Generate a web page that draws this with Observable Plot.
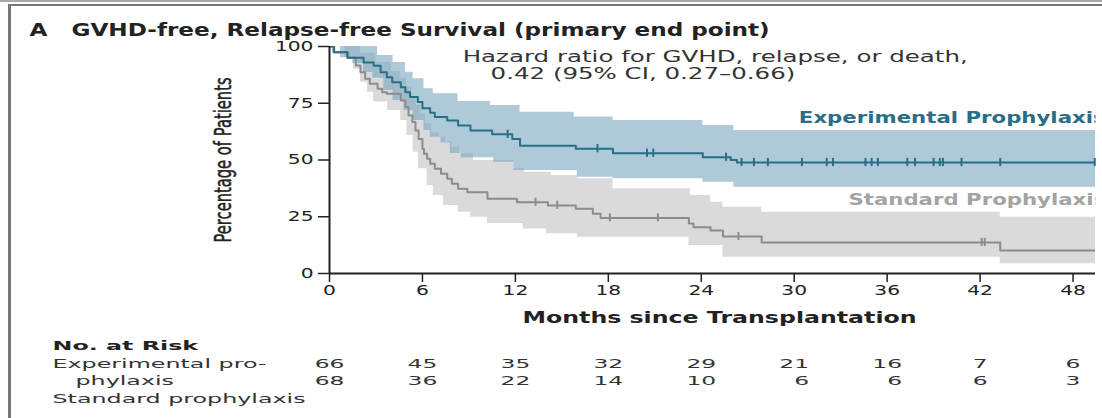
<!DOCTYPE html>
<html>
<head>
<meta charset="utf-8">
<script src="https://cdn.jsdelivr.net/npm/d3@7"></script>
<script src="https://cdn.jsdelivr.net/npm/@observablehq/plot@0.6"></script>
<style>
  html, body { margin: 0; padding: 0; background: #fff; overflow: hidden; }
  #fig { position: relative; width: 1102px; height: 418px; }
  #rule { position: absolute; left: 0; top: 0; width: 1102px; height: 2px; background: #a8a8a8; }
  #box { position: absolute; left: 8px; top: 4px; width: 1094px; height: 414px;
         border-left: 3px solid #777; border-top: 2px solid #777; box-sizing: border-box; }
  #chart { position: absolute; left: 0; top: 0; }
</style>
</head>
<body>
<div id="fig"><div id="rule"></div><div id="box"></div><div id="chart"></div></div>
<script>
// Kaplan–Meier estimates: [months since transplantation, % alive without GVHD or relapse]
const experimentalKM = [[0,100],[0.3,97.5],[1.15,95.0],[2.2,93.0],[2.85,91.5],[3.3,88.7],[3.7,86.5],[4.05,84.3],[4.6,82.0],[4.9,79.9],[5.2,77.7],[5.7,75.5],[6.0,72.8],[6.5,70.8],[6.8,68.9],[7.6,67.4],[8.3,65.2],[9.1,63.0],[10.5,61.3],[11.8,59.2],[12.3,56.3],[15.9,55.0],[18.3,53.0],[24.1,51.2],[25.9,50.0],[26.3,48.9]];
const experimentalUpper = [[0,100],[3.1,96.0],[4.1,93.0],[4.9,88.7],[5.4,85.8],[6.1,81.4],[6.7,79.2],[8.3,75.8],[10.4,74.0],[12.3,71.0],[15.8,68.9],[18.3,67.4],[24.1,65.2],[26.1,63.0]];
const experimentalLower = [[0,100],[0.7,95.0],[1.5,92.5],[2.2,88.5],[2.8,86.0],[3.5,80.6],[4.1,76.2],[4.8,71.8],[5.4,67.4],[6.1,63.0],[6.5,60.0],[7.2,57.5],[7.8,52.9],[8.5,51.0],[10.6,49.0],[11.9,45.4],[16.0,42.4],[18.3,41.7],[24.1,40.2],[26.1,38.0]];
const experimentalCensored = [11.5,17.3,20.5,20.9,25.6,26.6,27.4,28.3,30.5,32.1,32.5,34.6,35.0,35.4,37.3,37.8,39.0,39.4,39.6,40.8,43.3,49.4];

const standardKM = [[0,100],[0.25,97.5],[1.2,95.0],[1.7,91.6],[2.0,88.7],[2.3,85.8],[2.6,83.6],[3.1,81.4],[3.4,79.9],[3.7,79.2],[4.6,76.2],[4.9,73.3],[5.1,69.6],[5.35,66.7],[5.55,63.0],[5.75,59.3],[6.0,54.9],[6.1,52.7],[6.3,50.5],[6.5,48.3],[6.8,46.1],[7.2,43.9],[7.6,41.7],[7.9,39.5],[8.3,37.3],[8.9,35.8],[10.2,32.9],[12.1,31.4],[14.1,30.0],[15.9,28.5],[17.0,26.3],[17.5,24.5],[23.2,22.0],[23.5,20.4],[24.6,18.9],[25.4,16.3],[27.9,13.7],[43.3,10.1]];
const standardUpper = [[0,100],[2.0,97.0],[3.0,93.0],[4.0,89.0],[4.6,86.0],[5.0,82.0],[5.3,78.0],[5.6,74.0],[5.9,70.0],[6.2,66.0],[6.6,62.0],[7.1,60.0],[7.5,57.8],[7.9,55.6],[8.4,52.7],[9.3,49.8],[11.9,46.1],[12.6,44.6],[14.3,43.2],[16.0,41.7],[18.3,37.3],[23.3,34.4],[24.6,31.4],[25.4,29.2],[27.9,27.0],[43.3,24.8]];
const standardLower = [[0,100],[1.0,95.0],[1.55,90.0],[2.0,84.3],[2.45,79.9],[2.85,75.5],[3.75,71.8],[4.6,67.4],[5.0,60.8],[5.4,53.4],[5.75,46.1],[6.3,38.8],[6.7,34.4],[7.35,30.0],[8.3,27.0],[9.1,24.8],[10.2,22.0],[12.5,19.6],[14.0,17.5],[16.0,16.0],[23.2,12.3],[25.4,7.2],[43.3,4.3]];
const standardCensored = [13.3,14.7,18.1,21.2,26.4,42.1,42.3];

// Number at risk
const riskMonths = [0,6,12,18,24,30,36,42,48];
const riskExperimental = [66,45,35,32,29,21,16,7,6];
const riskStandard = [68,36,22,14,10,6,6,6,3];

const xTicks = [0,6,12,18,24,30,36,42,48];
const yTicks = [0,25,50,75,100];
const followUpEnd = 50;

const teal = "#296e87", tealBand = "#78a5be", grey = "#8c8c8c", greyBand = "#dadada";

// value of a right-continuous step function at time t
function stepAt(curve, t) {
  let v = curve[0][1];
  for (const [ti, vi] of curve) { if (ti <= t) v = vi; else break; }
  return v;
}
const steps = (curve) => [...curve, [followUpEnd, curve[curve.length - 1][1]]].map(([t, s]) => ({t, s}));
function band(lower, upper) {
  const times = Array.from(new Set([...lower.map(d => d[0]), ...upper.map(d => d[0]), followUpEnd])).sort((a, b) => a - b);
  return times.map(t => ({t, lo: stepAt(lower, t), hi: stepAt(upper, t)}));
}
const censorMarks = (times, curve) => times.map(t => ({t, s: stepAt(curve, t)}));

// risk table cells, padded with figure spaces so each column lines up on its widest entry
const riskCells = [];
riskMonths.forEach((m, i) => {
  const w = Math.max(String(riskExperimental[i]).length, String(riskStandard[i]).length);
  riskCells.push({t: m, row: 0, label: String(riskExperimental[i]).padStart(w, "\u2007")});
  riskCells.push({t: m, row: 1, label: String(riskStandard[i]).padStart(w, "\u2007")});
});

// every text element gets a role name (as its aria-label) used for the type widening below
const role = (name) => () => name;
const rowLabel = (text, dx, dy, extra = {}) =>
  Plot.text([text], {frameAnchor: "bottom-left", dx, dy, textAnchor: "start", fontSize: 13, fill: "#333", ariaLabel: role("risklabel"), ...extra});

const chart = Plot.plot({
  width: 1102, height: 418,
  marginLeft: 329, marginRight: 7, marginTop: 46, marginBottom: 145,
  style: {fontFamily: "DejaVu Sans", background: "transparent", color: "#222", overflow: "visible"},
  x: {domain: [0, 49.45]},
  y: {domain: [0, 100]},
  marks: [
    Plot.areaY(band(standardLower, standardUpper), {x: "t", y1: "lo", y2: "hi", curve: "step-after", fill: greyBand, clip: true}),
    Plot.areaY(band(experimentalLower, experimentalUpper), {x: "t", y1: "lo", y2: "hi", curve: "step-after", fill: tealBand, fillOpacity: 0.6, clip: true}),
    Plot.line(steps(standardKM), {x: "t", y: "s", curve: "step-after", stroke: grey, strokeWidth: 2, clip: true}),
    Plot.line(steps(experimentalKM), {x: "t", y: "s", curve: "step-after", stroke: teal, strokeWidth: 2, clip: true}),
    Plot.ruleX(censorMarks(standardCensored, standardKM), {x: "t", y1: d => d.s - 1.8, y2: d => d.s + 1.8, stroke: grey, strokeWidth: 2}),
    Plot.ruleX(censorMarks(experimentalCensored, experimentalKM), {x: "t", y1: d => d.s - 1.8, y2: d => d.s + 1.8, stroke: teal, strokeWidth: 2}),
    Plot.ruleX([0], {stroke: "#222", strokeWidth: 2}),
    Plot.ruleY([0], {stroke: "#222", strokeWidth: 2}),
    Plot.axisY({ticks: yTicks, tickSize: 11, tickPadding: 5, fontSize: 13.5, stroke: "#222", strokeWidth: 1.5, label: null}),
    Plot.axisX({ticks: xTicks, tickSize: 9, tickPadding: 3, fontSize: 13.5, stroke: "#222", strokeWidth: 1.5, label: null}),
    // y-axis title
    Plot.text(["Percentage of Patients"], {frameAnchor: "left", dx: -106, rotate: -90, textAnchor: "middle", fontSize: 23, fill: "#222", stroke: "#222", strokeWidth: 0.5, ariaLabel: role("ylabel")}),
    // x-axis title
    Plot.text(["Months since Transplantation"], {frameAnchor: "bottom", dx: 7, dy: 49, fontSize: 16, fontWeight: "bold", fill: "#222", ariaLabel: role("bold")}),
    // panel title
    Plot.text(["A"], {frameAnchor: "top-left", dx: -300, dy: -23, textAnchor: "start", fontSize: 17, fontWeight: "bold", fill: "#222", ariaLabel: role("title")}),
    Plot.text(["GVHD-free, Relapse-free Survival (primary end point)"], {frameAnchor: "top-left", dx: -258, dy: -23, textAnchor: "start", fontSize: 17, fontWeight: "bold", fill: "#222", ariaLabel: role("title")}),
    // hazard ratio note
    Plot.text([{t: 8.6, s: 95.2, label: "Hazard ratio for GVHD, relapse, or death,"}, {t: 10.4, s: 88.0, label: "0.42 (95% CI, 0.27\u20130.66)"}],
      {x: "t", y: "s", text: "label", textAnchor: "start", fontSize: 15.5, fill: "#333", ariaLabel: role("note")}),
    // group labels
    Plot.text([{t: 30.3, s: 68.5, label: "Experimental Prophylaxis"}], {x: "t", y: "s", text: "label", textAnchor: "start", fontSize: 16, fontWeight: "bold", fill: teal, ariaLabel: role("group")}),
    Plot.text([{t: 33.5, s: 32.6, label: "Standard Prophylaxis"}], {x: "t", y: "s", text: "label", textAnchor: "start", fontSize: 16, fontWeight: "bold", fill: "#a3a3a3", ariaLabel: role("group")}),
    // number at risk
    rowLabel("No. at Risk", -277, 76, {fontWeight: "bold", fill: "#222"}),
    rowLabel("Experimental pro-", -277, 94),
    rowLabel("phylaxis", -254, 111),
    rowLabel("Standard prophylaxis", -277, 129),
    Plot.text(riskCells.filter(d => d.row === 0), {x: "t", text: "label", frameAnchor: "bottom", dy: 94, fontSize: 13, fill: "#333", ariaLabel: role("risk")}),
    Plot.text(riskCells.filter(d => d.row === 1), {x: "t", text: "label", frameAnchor: "bottom", dy: 111, fontSize: 13, fill: "#333", ariaLabel: role("risk")})
  ]
});
document.getElementById("chart").appendChild(chart);

// widen type horizontally about each text's anchor, as in the journal's typesetting
const widen = (t, kx) => {
  const tr = t.getAttribute("transform");
  if (tr) t.setAttribute("transform", `${tr} scale(${kx},1)`);
  else {
    const x = +(t.getAttribute("x") || 0), y = +(t.getAttribute("y") || 0);
    t.setAttribute("transform", `translate(${x},${y}) scale(${kx},1) translate(${-x},${-y})`);
  }
};
const stretch = {bold: 1.48, title: 1.36, note: 1.58, group: 1.33, risk: 1.8, risklabel: 1.83, ylabel: 0.64};
for (const [name, kx] of Object.entries(stretch)) chart.querySelectorAll(`text[aria-label="${name}"]`).forEach(t => widen(t, kx));
for (const name of ["y-axis tick label", "x-axis tick label"]) chart.querySelectorAll(`g[aria-label="${name}"] text`).forEach(t => widen(t, 1.5));

// the group labels run off the right edge of the panel
const edge = document.createElementNS("http://www.w3.org/2000/svg", "clipPath");
edge.setAttribute("id", "panel-edge");
edge.innerHTML = `<rect x="0" y="0" width="1095" height="418"></rect>`;
chart.prepend(edge);
chart.querySelectorAll(`text[aria-label="group"]`).forEach(t => {
  const g = document.createElementNS("http://www.w3.org/2000/svg", "g");
  g.setAttribute("clip-path", "url(#panel-edge)");
  t.replaceWith(g); g.appendChild(t);
});
</script>
</body>
</html>
